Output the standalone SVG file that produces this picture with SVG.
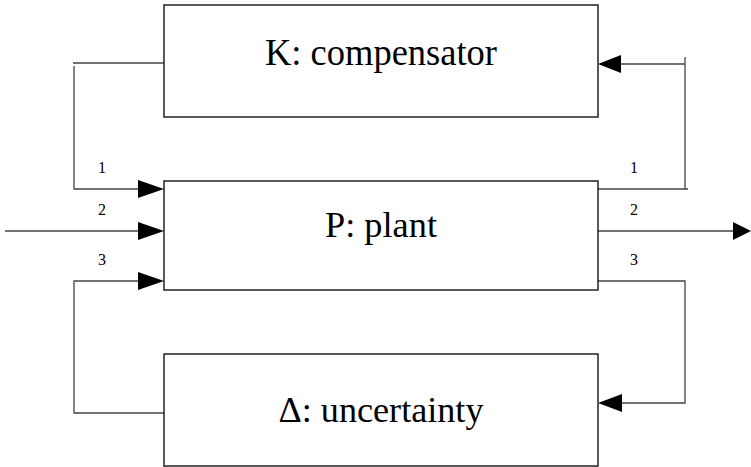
<svg xmlns="http://www.w3.org/2000/svg" width="751" height="467" viewBox="0 0 751 467">
<style>
.box{fill:#fff;stroke:#222;stroke-width:1.5}
.ln{fill:none;stroke:#444;stroke-width:1.3}
.ah{fill:#000}
</style>
<g id="connectors">
<polyline class="ln" points="73,63 164,63"/>
<polyline class="ln" points="74,66 74,189 140,189"/>
<polygon class="ah" points="164,189 138,180 138,198"/>
<polyline class="ln" points="5,231 140,231"/>
<polygon class="ah" points="164,231 138,222 138,240"/>
<polyline class="ln" points="164,413 74,413 74,281 140,281"/>
<polygon class="ah" points="164,281 138,272 138,290"/>
<polyline class="ln" points="598,189 688,189"/>
<polyline class="ln" points="685,57 685,189"/>
<polyline class="ln" points="685,64 618,64"/>
<polygon class="ah" points="598,64 621,55 621,73"/>
<polyline class="ln" points="598,231 735,231"/>
<polygon class="ah" points="751,231 733,222 733,240"/>
<polyline class="ln" points="598,281 685,281 685,403 620,403"/>
<polygon class="ah" points="598,403 622,394 622,412"/>
<text font-family="'Liberation Serif', serif" font-size="16" text-anchor="middle" x="102" y="173">1</text>
<text font-family="'Liberation Serif', serif" font-size="16" text-anchor="middle" x="102" y="215">2</text>
<text font-family="'Liberation Serif', serif" font-size="16" text-anchor="middle" x="102" y="265">3</text>
<text font-family="'Liberation Serif', serif" font-size="16" text-anchor="middle" x="634" y="173">1</text>
<text font-family="'Liberation Serif', serif" font-size="16" text-anchor="middle" x="634" y="215">2</text>
<text font-family="'Liberation Serif', serif" font-size="16" text-anchor="middle" x="634" y="265">3</text>
</g>
<g id="K">
<rect class="box" x="164" y="5" width="434" height="112"/>
<text font-family="'Liberation Serif', serif" font-size="37" text-anchor="middle" x="381" y="65" textLength="232" lengthAdjust="spacingAndGlyphs">K: compensator</text>
</g>
<g id="P">
<rect class="box" x="164" y="181" width="434" height="109"/>
<text font-family="'Liberation Serif', serif" font-size="36" text-anchor="middle" x="381" y="237" textLength="112" lengthAdjust="spacingAndGlyphs">P: plant</text>
</g>
<g id="Delta">
<rect class="box" x="164" y="354" width="434" height="112"/>
<text font-family="'Liberation Serif', serif" font-size="36" text-anchor="middle" x="381" y="422" textLength="205" lengthAdjust="spacingAndGlyphs">Δ: uncertainty</text>
</g>
</svg>
